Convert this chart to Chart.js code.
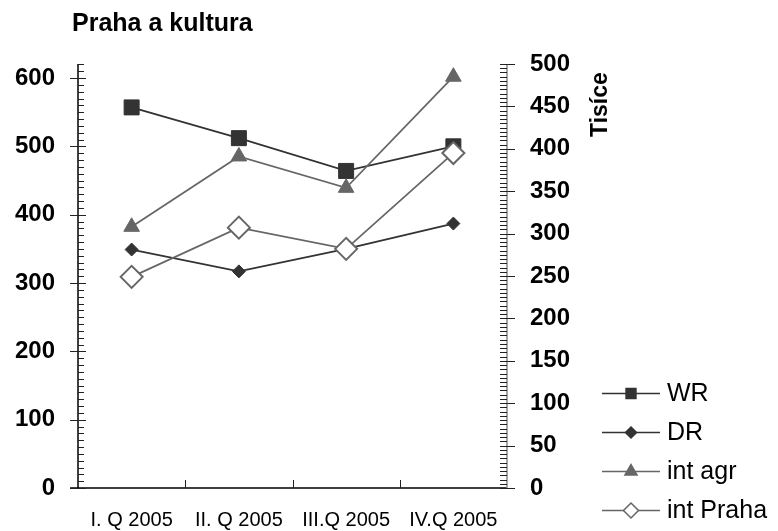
<!DOCTYPE html>
<html>
<head>
<meta charset="utf-8">
<script src="https://cdn.jsdelivr.net/npm/chart.js@4/dist/chart.umd.min.js"></script>
<style>
  html, body { margin: 0; padding: 0; background: #fff; }
  #wrap { width: 778px; height: 531px; }
</style>
</head>
<body>
<div id="wrap"><canvas id="chart"></canvas></div>
<script>
// data
const categories = ['I. Q 2005', 'II. Q 2005', 'III.Q 2005', 'IV.Q 2005'];
const wrValues = [557, 512, 464, 500];        // left axis
const drValues = [349, 317, 350, 387];        // left axis
const intAgrValues = [308, 391, 354, 485];    // right axis (Tisíce)
const intPrahaValues = [249, 307, 282, 395];  // right axis (Tisíce)
const leftTicks = [0, 100, 200, 300, 400, 500, 600];
const rightTicks = [0, 50, 100, 150, 200, 250, 300, 350, 400, 450, 500];

const FONT = 'Arial, "Liberation Sans", sans-serif';
const DARK = '#333333';
const GRAY = '#666666';

function marker(ctx, style, x, y, r, fill, stroke, lw) {
  ctx.beginPath();
  if (style === 'rect') {
    const s = r * Math.SQRT1_2;
    ctx.rect(x - s, y - s, 2 * s, 2 * s);
  } else if (style === 'rectRot') {
    ctx.moveTo(x, y - r); ctx.lineTo(x + r, y); ctx.lineTo(x, y + r); ctx.lineTo(x - r, y);
    ctx.closePath();
  } else if (style === 'triangle') {
    ctx.moveTo(x, y - r);
    ctx.lineTo(x + r * Math.sin(Math.PI * 2 / 3), y - r * Math.cos(Math.PI * 2 / 3));
    ctx.lineTo(x + r * Math.sin(Math.PI * 4 / 3), y - r * Math.cos(Math.PI * 4 / 3));
    ctx.closePath();
  }
  ctx.fillStyle = fill; ctx.fill();
  ctx.strokeStyle = stroke; ctx.lineWidth = lw; ctx.stroke();
}

const legendRows = [
  { label: 'WR', style: 'rect', r: 7, fill: DARK, stroke: DARK, line: DARK },
  { label: 'DR', style: 'rectRot', r: 5.5, fill: DARK, stroke: DARK, line: DARK },
  { label: 'int agr', style: 'triangle', r: 7, fill: GRAY, stroke: GRAY, line: GRAY },
  { label: 'int Praha', style: 'rectRot', r: 7.5, fill: '#fff', stroke: GRAY, line: GRAY }
];

// title, "Tisíce", axis tick marks and legend
const decorPlugin = {
  id: 'decor',
  afterDraw(chart) {
    const ctx = chart.ctx;
    const area = chart.chartArea;
    const yL = chart.scales.y, yR = chart.scales.y1, xs = chart.scales.x;
    ctx.save();

    // axis lines
    ctx.lineWidth = 1.5;
    ctx.strokeStyle = '#000';
    ctx.beginPath();
    ctx.moveTo(area.left, area.top); ctx.lineTo(area.left, area.bottom);
    ctx.moveTo(area.left - 8, area.bottom); ctx.lineTo(area.right, area.bottom);
    ctx.stroke();
    ctx.strokeStyle = '#888';
    ctx.beginPath();
    ctx.moveTo(area.right, area.top); ctx.lineTo(area.right, area.bottom);
    ctx.stroke();

    ctx.lineWidth = 1;
    ctx.strokeStyle = '#222';
    ctx.beginPath();
    for (let v = 0; v <= yL.max + 0.01; v += 10) {
      const py = Math.round(yL.getPixelForValue(v)) + 0.5;
      if (v % 100 === 0) { ctx.moveTo(area.left - 8, py); ctx.lineTo(area.left + 8, py); }
      else { ctx.moveTo(area.left, py); ctx.lineTo(area.left + 6, py); }
    }
    for (let v = 0; v <= yR.max + 0.01; v += 5) {
      const py = Math.round(yR.getPixelForValue(v)) + 0.5;
      if (v % 50 === 0) { ctx.moveTo(area.right - 7, py); ctx.lineTo(area.right + 8, py); }
      else { ctx.moveTo(area.right - 7, py); ctx.lineTo(area.right, py); }
    }
    for (let i = 1; i < categories.length; i++) {
      const px = Math.round(xs.getPixelForDecimal(i / categories.length)) + 0.5;
      ctx.moveTo(px, area.bottom); ctx.lineTo(px, area.bottom - 8);
    }
    ctx.stroke();

    // title
    ctx.fillStyle = '#000';
    ctx.font = 'bold 25px ' + FONT;
    ctx.textAlign = 'left';
    ctx.textBaseline = 'alphabetic';
    ctx.fillText('Praha a kultura', 72, 31);

    // right axis title
    ctx.save();
    ctx.translate(607, 137);
    ctx.rotate(-Math.PI / 2);
    ctx.font = 'bold 23px ' + FONT;
    ctx.fillText('Tisíce', 0, 0);
    ctx.restore();

    // legend
    const rowsY = [393, 432, 471, 510];
    ctx.font = '25px ' + FONT;
    ctx.textBaseline = 'middle';
    legendRows.forEach((row, i) => {
      const y = rowsY[i] + 0.5;
      ctx.strokeStyle = row.line;
      ctx.lineWidth = 1.5;
      ctx.beginPath();
      ctx.moveTo(602, y); ctx.lineTo(660, y);
      ctx.stroke();
      marker(ctx, row.style, 631, y, row.r, row.fill, row.stroke, 1.5);
      ctx.fillStyle = '#000';
      ctx.fillText(row.label, 667, y + 1);
    });
    ctx.restore();
  }
};

new Chart(document.getElementById('chart'), {
  type: 'line',
  data: {
    labels: categories,
    datasets: [
      {
        label: 'WR', data: wrValues, yAxisID: 'y', order: 4,
        borderColor: DARK, borderWidth: 1.75,
        pointStyle: 'rect', pointRadius: 10.6, pointBackgroundColor: DARK, pointBorderColor: DARK, pointBorderWidth: 1
      },
      {
        label: 'DR', data: drValues, yAxisID: 'y', order: 3,
        borderColor: DARK, borderWidth: 1.75,
        pointStyle: 'rectRot', pointRadius: 6.5, pointBackgroundColor: DARK, pointBorderColor: DARK, pointBorderWidth: 1
      },
      {
        label: 'int agr', data: intAgrValues, yAxisID: 'y1', order: 2,
        borderColor: GRAY, borderWidth: 1.75,
        pointStyle: 'triangle', pointRadius: 9, pointBackgroundColor: GRAY, pointBorderColor: GRAY, pointBorderWidth: 1
      },
      {
        label: 'int Praha', data: intPrahaValues, yAxisID: 'y1', order: 1,
        borderColor: GRAY, borderWidth: 1.75,
        pointStyle: 'rectRot', pointRadius: 11, pointBackgroundColor: '#fff', pointBorderColor: GRAY, pointBorderWidth: 2
      }
    ]
  },
  options: {
    responsive: true,
    maintainAspectRatio: false,
    animation: false,
    devicePixelRatio: 1,
    layout: { padding: { top: 64, left: 0, right: 171, bottom: 0 } },
    plugins: {
      legend: { display: false },
      title: { display: false },
      tooltip: { enabled: false }
    },
    scales: {
      x: {
        type: 'category',
        offset: true,
        grid: { display: false, drawTicks: false },
        border: { display: false },
        ticks: { color: '#000', font: { family: FONT, size: 20 }, padding: 20, maxRotation: 0, autoSkip: false },
        afterFit(scale) { scale.height = 43; }
      },
      y: {
        position: 'left',
        min: 0,
        max: 620.5,
        grid: { display: false, drawTicks: false },
        border: { display: false },
        ticks: { color: '#000', font: { family: FONT, size: 24, weight: 'bold' }, padding: 23 },
        afterBuildTicks(scale) { scale.ticks = leftTicks.map(v => ({ value: v })); },
        afterFit(scale) { scale.width = 78; }
      },
      y1: {
        position: 'right',
        min: 0,
        max: 500,
        grid: { display: false, drawTicks: false },
        border: { display: false },
        ticks: { color: '#000', font: { family: FONT, size: 24, weight: 'bold' }, padding: 23 },
        afterBuildTicks(scale) { scale.ticks = rightTicks.map(v => ({ value: v })); },
        afterFit(scale) { scale.width = 100; }
      }
    }
  },
  plugins: [decorPlugin]
});
</script>
</body>
</html>
